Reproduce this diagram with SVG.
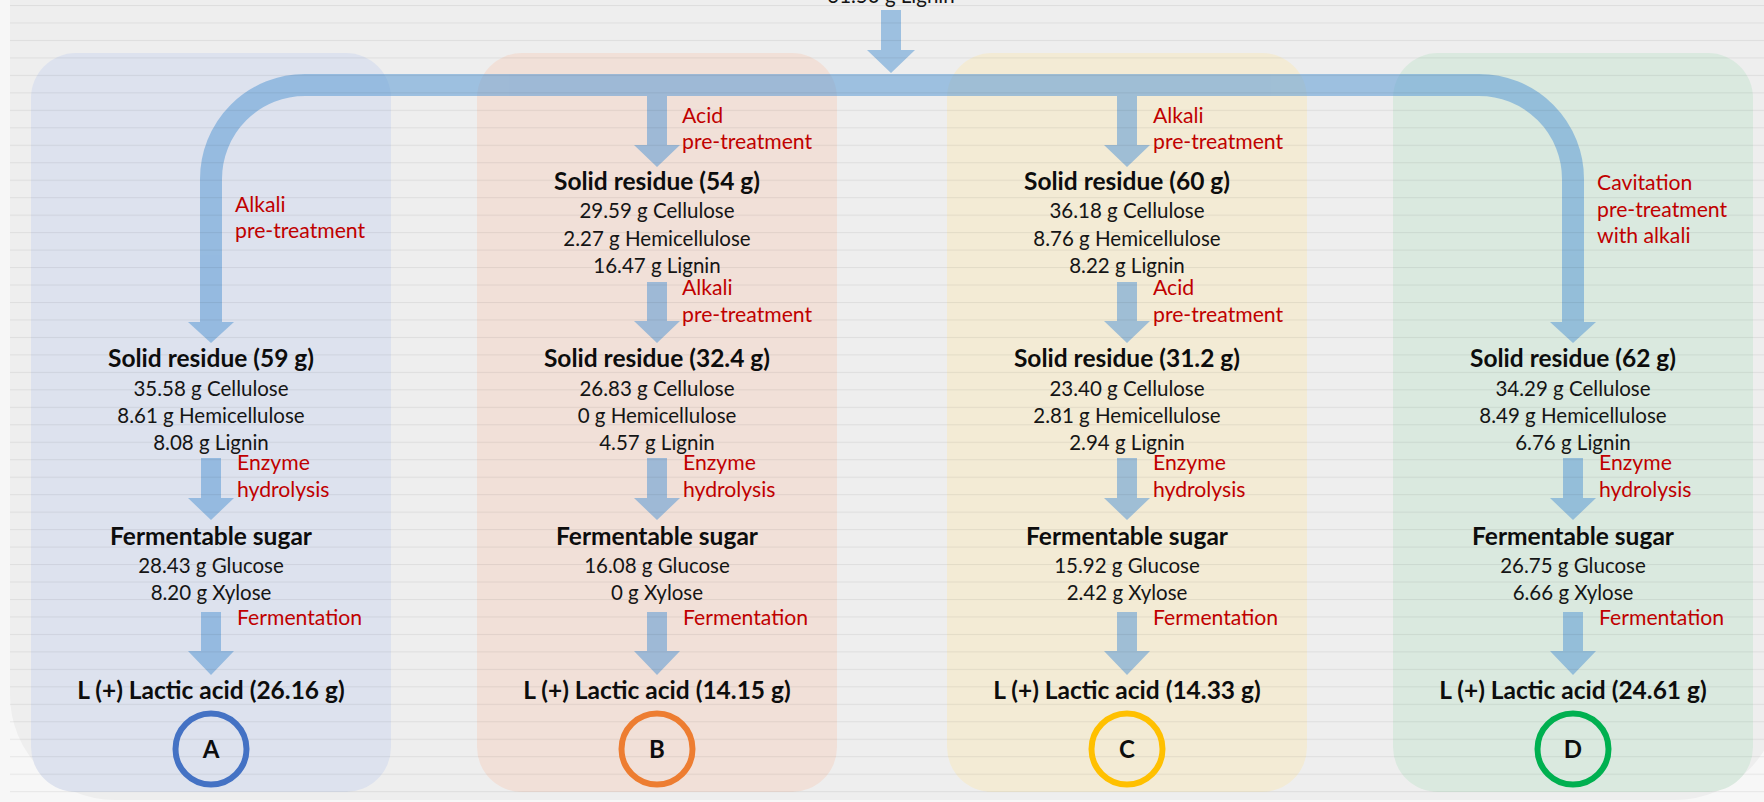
<svg xmlns="http://www.w3.org/2000/svg" width="1764" height="802" viewBox="0 0 1764 802">
<style>
.t{font-family:Lato,"Open Sans","Liberation Sans",sans-serif;font-size:20.5px;fill:#151515;text-anchor:middle}
.b{font-family:Lato,"Open Sans","Liberation Sans",sans-serif;font-size:24.5px;font-weight:bold;fill:#0d0d0d;text-anchor:middle}
.r{font-family:Lato,"Open Sans","Liberation Sans",sans-serif;font-size:21.2px;fill:#c00000}
.lt{font-family:Lato,"Open Sans","Liberation Sans",sans-serif;font-size:24px;font-weight:bold;fill:#0d0d0d;text-anchor:middle}
.ring{fill:none;stroke-width:6}
</style>
<defs>
<pattern id="ln" width="40" height="17.47" patternUnits="userSpaceOnUse" x="0" y="5">
<rect x="0" y="0" width="40" height="1" fill="#000" fill-opacity="0.065"/>
</pattern>
</defs>
<rect x="0" y="0" width="1764" height="802" fill="#f7f7f7"/>
<rect x="10" y="-120" width="1770" height="920" rx="105" fill="#eeeeee"/>
<g id="panels">
<rect x="31" y="53" width="360" height="739" rx="45" fill="#dde2ee"/>
<rect x="477" y="53" width="360" height="739" rx="45" fill="#f1e0d8"/>
<rect x="947" y="53" width="360" height="739" rx="45" fill="#f3ebd5"/>
<rect x="1393" y="53" width="360" height="739" rx="45" fill="#dae9df"/>
</g>
<g id="connectors" opacity="0.55" fill="#5b9bd5">
<path d="M211,322 V179 A94,94 0 0 1 305,85 H1479 A94,94 0 0 1 1573,179 V322" fill="none" stroke="#5b9bd5" stroke-width="22"/>
<polygon points="881,10 901,10 901,50 915,50 891,73 867,50 881,50"/>
<polygon points="188,322 234,322 211,343"/>
<polygon points="1550,322 1596,322 1573,343"/>
<polygon points="647,96 667,96 667,145 680,145 657,167 634,145 647,145"/>
<polygon points="1117,96 1137,96 1137,145 1150,145 1127,167 1104,145 1117,145"/>
<polygon points="647,282 667,282 667,321 680,321 657,343 634,321 647,321"/>
<polygon points="1117,282 1137,282 1137,321 1150,321 1127,343 1104,321 1117,321"/>
<polygon points="201,458 221,458 221,498 234,498 211,520 188,498 201,498"/>
<polygon points="647,458 667,458 667,498 680,498 657,520 634,498 647,498"/>
<polygon points="1117,458 1137,458 1137,498 1150,498 1127,520 1104,498 1117,498"/>
<polygon points="1563,458 1583,458 1583,498 1596,498 1573,520 1550,498 1563,498"/>
<polygon points="201,612 221,612 221,651 234,651 211,675 188,651 201,651"/>
<polygon points="647,612 667,612 667,651 680,651 657,675 634,651 647,651"/>
<polygon points="1117,612 1137,612 1137,651 1150,651 1127,675 1104,651 1117,651"/>
<polygon points="1563,612 1583,612 1583,651 1596,651 1573,675 1550,651 1563,651"/>
</g>
<rect x="10" y="0" width="1754" height="802" fill="url(#ln)"/>
<g id="labels">
<text class="r" x="235" y="212">Alkali</text>
<text class="r" x="235" y="238">pre-treatment</text>
<text class="r" x="682" y="123">Acid</text>
<text class="r" x="682" y="149">pre-treatment</text>
<text class="r" x="682" y="295">Alkali</text>
<text class="r" x="682" y="322">pre-treatment</text>
<text class="r" x="1153" y="123">Alkali</text>
<text class="r" x="1153" y="149">pre-treatment</text>
<text class="r" x="1153" y="295">Acid</text>
<text class="r" x="1153" y="322">pre-treatment</text>
<text class="r" x="1597" y="190">Cavitation</text>
<text class="r" x="1597" y="217">pre-treatment</text>
<text class="r" x="1597" y="243">with alkali</text>
<text class="r" x="237" y="470">Enzyme</text>
<text class="r" x="237" y="497">hydrolysis</text>
<text class="r" x="683" y="470">Enzyme</text>
<text class="r" x="683" y="497">hydrolysis</text>
<text class="r" x="1153" y="470">Enzyme</text>
<text class="r" x="1153" y="497">hydrolysis</text>
<text class="r" x="1599" y="470">Enzyme</text>
<text class="r" x="1599" y="497">hydrolysis</text>
<text class="r" x="237" y="625">Fermentation</text>
<text class="r" x="683" y="625">Fermentation</text>
<text class="r" x="1153" y="625">Fermentation</text>
<text class="r" x="1599" y="625">Fermentation</text>
</g>
<g id="node-raw">
<text class="t" x="891" y="3">31.50 g Lignin</text>
</g>
<g id="node-B1">
<text class="b" x="657" y="190">Solid residue (54 g)</text>
<text class="t" x="657" y="218">29.59 g Cellulose</text>
<text class="t" x="657" y="246">2.27 g Hemicellulose</text>
<text class="t" x="657" y="273">16.47 g Lignin</text>
</g>
<g id="node-C1">
<text class="b" x="1127" y="190">Solid residue (60 g)</text>
<text class="t" x="1127" y="218">36.18 g Cellulose</text>
<text class="t" x="1127" y="246">8.76 g Hemicellulose</text>
<text class="t" x="1127" y="273">8.22 g Lignin</text>
</g>
<g id="node-A2">
<text class="b" x="211" y="367">Solid residue (59 g)</text>
<text class="t" x="211" y="396">35.58 g Cellulose</text>
<text class="t" x="211" y="423">8.61 g Hemicellulose</text>
<text class="t" x="211" y="450">8.08 g Lignin</text>
</g>
<g id="node-B2">
<text class="b" x="657" y="367">Solid residue (32.4 g)</text>
<text class="t" x="657" y="396">26.83 g Cellulose</text>
<text class="t" x="657" y="423">0 g Hemicellulose</text>
<text class="t" x="657" y="450">4.57 g Lignin</text>
</g>
<g id="node-C2">
<text class="b" x="1127" y="367">Solid residue (31.2 g)</text>
<text class="t" x="1127" y="396">23.40 g Cellulose</text>
<text class="t" x="1127" y="423">2.81 g Hemicellulose</text>
<text class="t" x="1127" y="450">2.94 g Lignin</text>
</g>
<g id="node-D2">
<text class="b" x="1573" y="367">Solid residue (62 g)</text>
<text class="t" x="1573" y="396">34.29 g Cellulose</text>
<text class="t" x="1573" y="423">8.49 g Hemicellulose</text>
<text class="t" x="1573" y="450">6.76 g Lignin</text>
</g>
<g id="node-A3">
<text class="b" x="211" y="545">Fermentable sugar</text>
<text class="t" x="211" y="573">28.43 g Glucose</text>
<text class="t" x="211" y="600">8.20 g Xylose</text>
</g>
<g id="node-B3">
<text class="b" x="657" y="545">Fermentable sugar</text>
<text class="t" x="657" y="573">16.08 g Glucose</text>
<text class="t" x="657" y="600">0 g Xylose</text>
</g>
<g id="node-C3">
<text class="b" x="1127" y="545">Fermentable sugar</text>
<text class="t" x="1127" y="573">15.92 g Glucose</text>
<text class="t" x="1127" y="600">2.42 g Xylose</text>
</g>
<g id="node-D3">
<text class="b" x="1573" y="545">Fermentable sugar</text>
<text class="t" x="1573" y="573">26.75 g Glucose</text>
<text class="t" x="1573" y="600">6.66 g Xylose</text>
</g>
<g id="node-A4"><text class="b" x="211" y="699">L (+) Lactic acid (26.16 g)</text></g>
<g id="node-B4"><text class="b" x="657" y="699">L (+) Lactic acid (14.15 g)</text></g>
<g id="node-C4"><text class="b" x="1127" y="699">L (+) Lactic acid (14.33 g)</text></g>
<g id="node-D4"><text class="b" x="1573" y="699">L (+) Lactic acid (24.61 g)</text></g>
<g id="badge-A"><circle class="ring" cx="211" cy="749" r="35.5" stroke="#4472c4"/><text class="lt" x="211" y="758">A</text></g>
<g id="badge-B"><circle class="ring" cx="657" cy="749" r="35.5" stroke="#ed7d31"/><text class="lt" x="657" y="758">B</text></g>
<g id="badge-C"><circle class="ring" cx="1127" cy="749" r="35.5" stroke="#ffc000"/><text class="lt" x="1127" y="758">C</text></g>
<g id="badge-D"><circle class="ring" cx="1573" cy="749" r="35.5" stroke="#00b050"/><text class="lt" x="1573" y="758">D</text></g>
</svg>
